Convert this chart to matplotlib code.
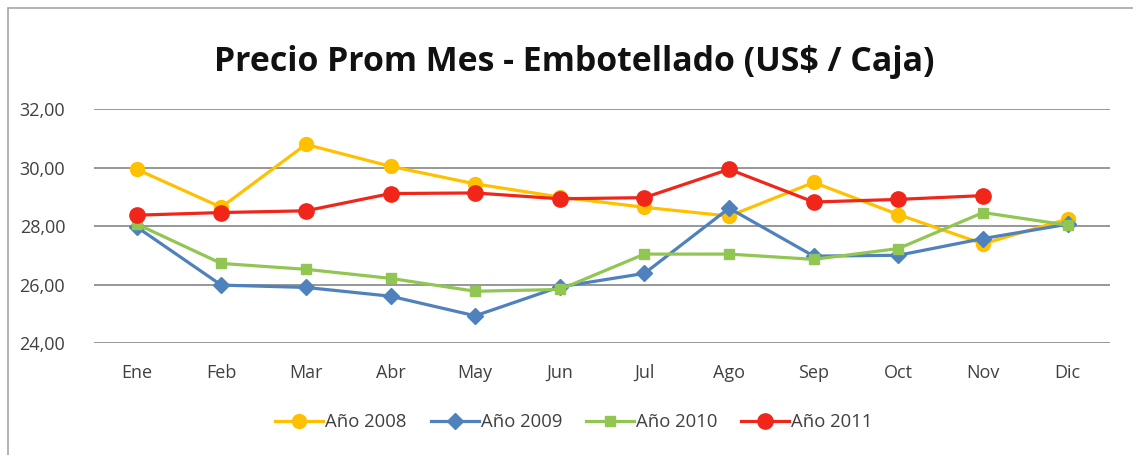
import matplotlib
matplotlib.use("Agg")
import matplotlib.pyplot as plt
from matplotlib.patches import Rectangle

meses = ["Ene", "Feb", "Mar", "Abr", "May", "Jun", "Jul", "Ago", "Sep", "Oct", "Nov", "Dic"]

anio_2008 = [29.95, 28.65, 30.80, 30.05, 29.45, 29.00, 28.65, 28.35, 29.50, 28.40, 27.40, 28.25]
anio_2009 = [27.98, 25.99, 25.91, 25.61, 24.94, 25.93, 26.39, 28.62, 26.98, 27.01, 27.58, 28.07]
anio_2010 = [28.08, 26.73, 26.53, 26.22, 25.78, 25.84, 27.05, 27.05, 26.87, 27.24, 28.47, 28.04]
anio_2011 = [28.38, 28.47, 28.53, 29.12, 29.14, 28.94, 28.98, 29.95, 28.83, 28.92, 29.05]

series = ["Año 2008", "Año 2009", "Año 2010", "Año 2011"]
y_ticks = [24, 26, 28, 30, 32]

plt.rcParams['font.family'] = ['Open Sans', 'DejaVu Sans']

W, H = 1133, 455
fig = plt.figure(figsize=(W / 100, H / 100), dpi=100)
ax = fig.add_axes([94.3 / W, 1 - 343.3 / H, (1110 - 94.3) / W, (343.3 - 109.3) / H])

x = list(range(len(meses)))
ax.plot(x, anio_2008, color='#ffc000', lw=2.3, marker='o', ms=10, label=series[0], zorder=3)
ax.plot(x, anio_2009, color='#4f81bd', lw=2.3, marker='D', ms=8, label=series[1], zorder=4)
ax.plot(x, anio_2010, color='#92c653', lw=2.3, marker='s', ms=7.5, label=series[2], zorder=5)
ax.plot(x[:len(anio_2011)], anio_2011, color='#f0261b', lw=2.3, marker='o', ms=11, label=series[3], zorder=6)

ax.set_xlim(-0.5, len(meses) - 0.5)
ax.set_ylim(24, 32)
ax.set_yticks(y_ticks)
ax.set_yticklabels([f"{v:.2f}".replace(".", ",") for v in y_ticks])
ax.set_xticks(x)
ax.set_xticklabels(meses)
ax.tick_params(length=0, labelsize=13, colors='#404040')
ax.tick_params(axis='y', pad=21)
ax.tick_params(axis='x', pad=15)
ax.yaxis.grid(True, color='#858585', lw=1.2)
ax.set_axisbelow(True)
for s in ax.spines.values():
    s.set_visible(False)

title = fig.text(574 / W, 1 - 62 / H, "Precio Prom Mes - Embotellado (US$ / Caja)",
                 ha='center', va='center', fontsize=20, fontweight='bold', color='#111111')
# scale the title so its width matches the picture
fig.canvas.draw()
w = title.get_window_extent().width
title.set_fontsize(20 * 722 / w)

fig.legend(loc='center', bbox_to_anchor=(574 / W, 1 - 422 / H), ncol=4, frameon=False,
           fontsize=13.3, handlelength=2.6, handletextpad=0.1, columnspacing=1.3,
           labelcolor='#404040')

fig.add_artist(Rectangle((8 / W, -0.1), 1.2, 1.1 - 8 / H, transform=fig.transFigure,
                         fill=False, edgecolor='#a6a6a6', lw=1.2))

fig.savefig("out.png", dpi=100)
